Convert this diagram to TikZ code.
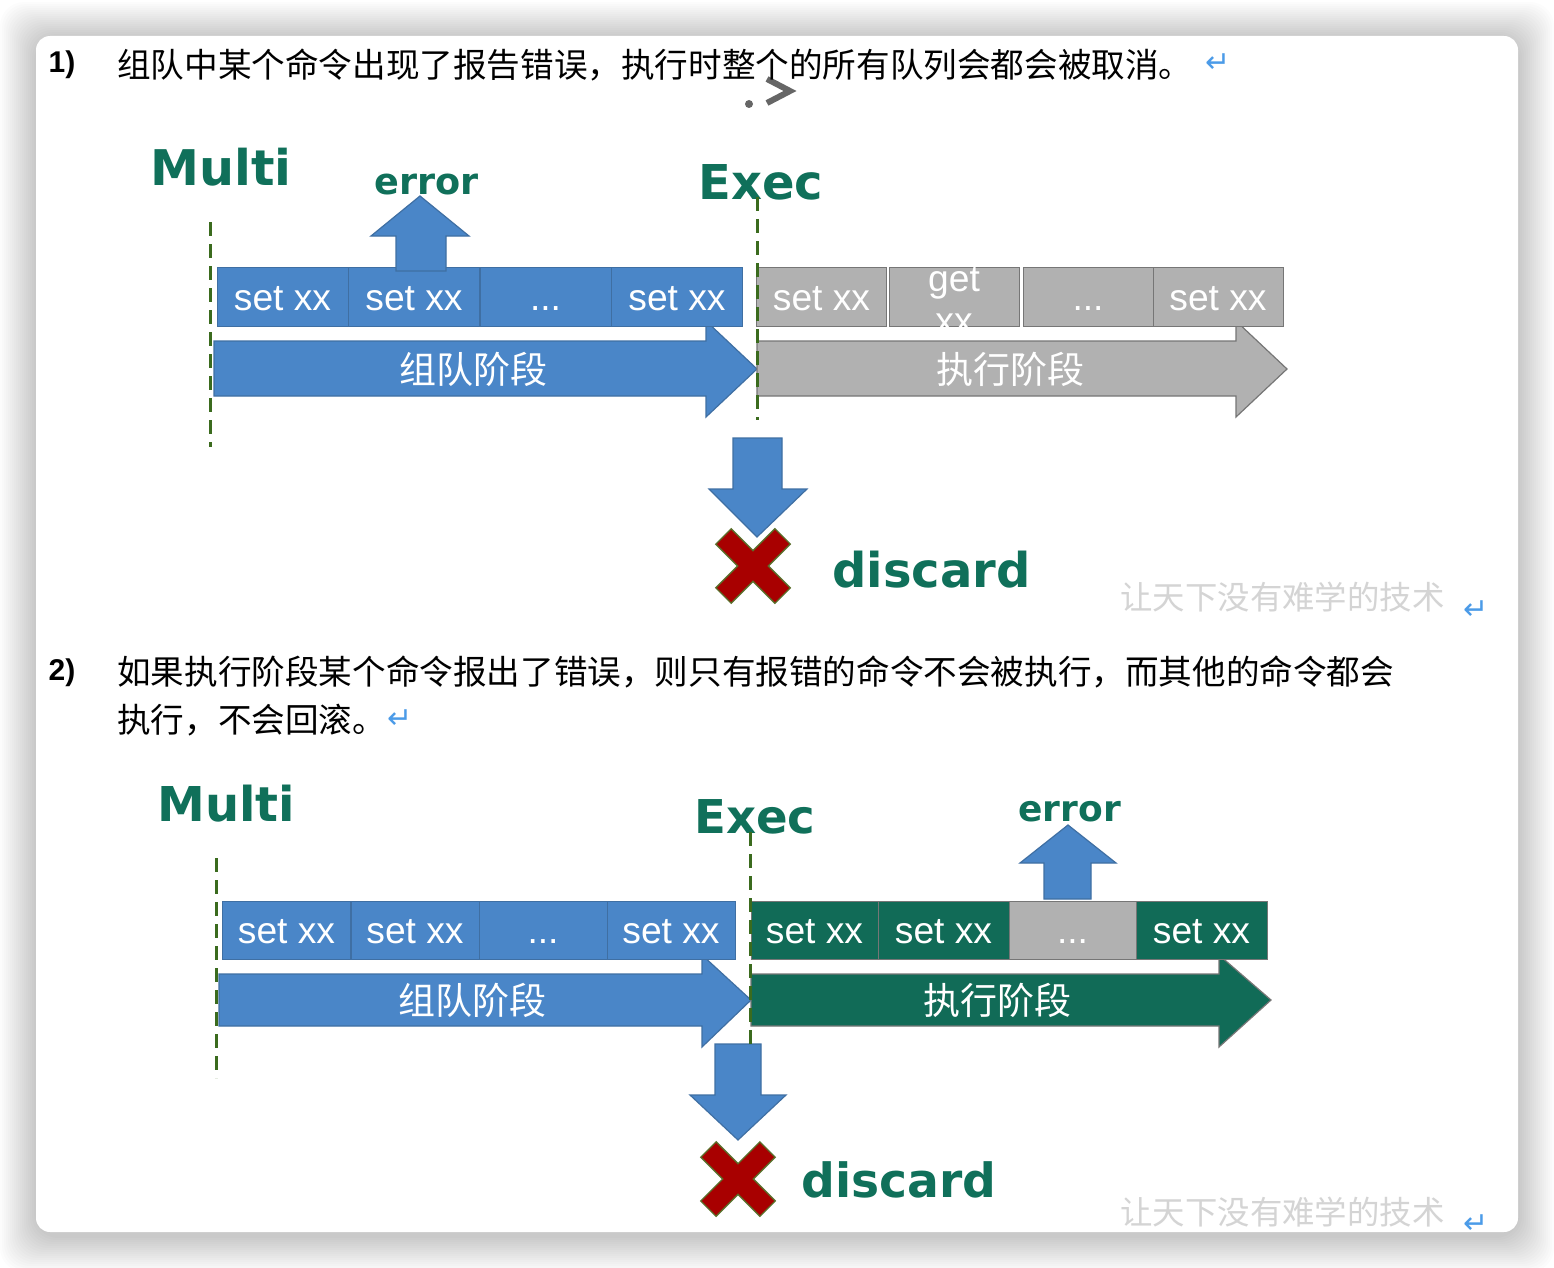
\documentclass[tikz,border=0pt]{standalone}
\usepackage{fontspec}
\setmainfont{Liberation Sans}
\newfontfamily\cjk{Noto Sans CJK SC}
\newfontfamily\verd{DejaVu Sans}
\usepackage{tikz}

\definecolor{cmdblue}{HTML}{4A86C8}
\definecolor{blueline}{HTML}{3F6FA3}
\definecolor{execgreen}{HTML}{116B57}
\definecolor{labgreen}{HTML}{10705A}
\definecolor{cmdgray}{HTML}{B1B1B1}
\definecolor{grayline}{HTML}{767676}
\definecolor{markline}{HTML}{3B6B1E}
\definecolor{crossred}{HTML}{A80000}
\definecolor{crossrim}{HTML}{5A6E2A}
\definecolor{retblue}{HTML}{4B9BE8}

\begin{document}
\begin{tikzpicture}[x=0.5pt, y=-0.5pt,
  cmd/.style={draw=blueline, fill=cmdblue, text=white, minimum width=65.5pt, minimum height=29.5pt, inner sep=0pt, text height=13pt, text depth=0pt, font=\fontsize{18.6}{21}\selectfont},
  idle/.style={cmd, draw=grayline, fill=cmdgray},
  run/.style={cmd, draw=grayline, fill=execgreen},
  bluearrow/.style={draw=blueline, fill=cmdblue, line width=0.6pt},
  grayarrow/.style={draw=grayline, fill=cmdgray, line width=0.6pt},
  greenarrow/.style={draw=grayline, fill=execgreen, line width=0.6pt},
  stagetext/.style={text=white, font=\cjk\fontsize{18.5}{20}\selectfont},
  biglabel/.style={anchor=base west, inner sep=0pt, text=labgreen, font=\verd\bfseries\fontsize{24}{26}\selectfont},
  errlabel/.style={anchor=base west, inner sep=0pt, text=labgreen, font=\verd\bfseries\fontsize{18.3}{20}\selectfont},
  bound/.style={markline, line width=1.5pt, dash pattern=on 7pt off 4pt},
  para/.style={anchor=west, inner sep=0pt, font=\cjk\fontsize{16.8}{20}\selectfont},
  num/.style={inner sep=0pt, font=\bfseries\fontsize{15}{17}\selectfont},
  ret/.style={text=retblue, inner sep=0pt, font=\verd\fontsize{15}{17}\selectfont},
  stamp/.style={anchor=west, inner sep=0pt, text=black!17, font=\cjk\fontsize{16.2}{18}\selectfont}]
\useasboundingbox (0,0) rectangle (1554,1268);
\fill[white] (0,0) rectangle (1554,1268);

% card with soft shadow
\foreach \i in {1,...,18}
  \fill[black, opacity=0.011, rounded corners=12pt] (36-2*\i,38-2*\i) rectangle (1518+2*\i,1236+2*\i);
\fill[white, rounded corners=7pt] (36,36) rectangle (1518,1232);
\draw[black!60, line width=3pt] (767,79) -- (790,91) -- (767,103);
\fill[black!60] (749,104) circle (2pt);

% ---------- 1) ----------
\node[num] (n1) at (62,65) {1)};
\node[para] (t1) at (117,65) {组队中某个命令出现了报告错误，执行时整个的所有队列会都会被取消。};
\node[ret] (r1) at (1218,63) {↵};

\node[biglabel, font=\verd\bfseries\fontsize{24.6}{26}\selectfont] (multi1) at (150,185) {Multi};
\node[errlabel] (err1) at (374,194) {error};
\node[biglabel] (exec1) at (698,199) {Exec};

\draw[bluearrow] (214,341) -- (706,341) -- (706,321) -- (757,369) -- (706,417) -- (706,396) -- (214,396) -- cycle;
\node[stagetext] (queue1) at (473,369) {组队阶段};
\draw[grayarrow] (757,341) -- (1236,341) -- (1236,321) -- (1287,369) -- (1236,417) -- (1236,396) -- (757,396) -- cycle;
\node[stagetext] (exe1) at (1010,369) {执行阶段};

\node[cmd] (a1) at (282.5,297) {set xx};
\node[cmd] (a2) at (414,297) {set xx};
\node[cmd] (a3) at (545.5,297) {...};
\node[cmd] (a4) at (677,297) {set xx};

\node[idle, minimum width=65pt] (b1) at (821.5,297) {set xx};
\node[idle, minimum width=65pt] (b2) at (954,297) {};
\begin{scope}
  \clip (889,267) rectangle (1019,327);
  \node[align=center, text=white, font=\fontsize{18.6}{21}\selectfont] (b2t) at (954,300) {get\\xx};
\end{scope}
\node[idle, minimum width=65pt] (b3) at (1088,297) {...};
\node[idle, minimum width=65pt] (b4) at (1218,297) {set xx};

\draw[bluearrow] (396,271) -- (396,236) -- (371,236) -- (420,196) -- (469,236) -- (446,236) -- (446,271) -- cycle;
\draw[bluearrow] (733,438) -- (782,438) -- (782,489) -- (807,489) -- (757,537) -- (709,489) -- (733,489) -- cycle;

\coordinate (x1) at (753,566);
\draw[crossrim, line width=11.5pt] (x1) ++(-30,-30) -- ++(60,60) (x1) ++(30,-30) -- ++(-60,60);
\draw[crossred, line width=10pt] (x1) ++(-29,-29) -- ++(58,58) (x1) ++(29,-29) -- ++(-58,58);
\node[biglabel] (disc1) at (832,587) {discard};

\coordinate (m1top) at (210,222);
\coordinate (m1bot) at (210,447);
\coordinate (e1top) at (757,197);
\coordinate (e1bot) at (757,420);
\draw[bound] (m1top) -- (m1bot);
\draw[bound] (e1top) -- (e1bot);

\node[stamp] (w1) at (1120,597) {让天下没有难学的技术};
\node[ret] (r2) at (1476,610) {↵};

% ---------- 2) ----------
\node[num] (n2) at (62,673) {2)};
\node[para] (t2) at (117,672) {如果执行阶段某个命令报出了错误，则只有报错的命令不会被执行，而其他的命令都会};
\node[para] (t3) at (117,720) {执行，不会回滚。};
\node[ret] (r3) at (400,719) {↵};

\node[biglabel] (multi2) at (157,821) {Multi};
\node[biglabel, font=\verd\bfseries\fontsize{23.3}{26}\selectfont] (exec2) at (694,833) {Exec};
\node[errlabel, font=\verd\bfseries\fontsize{18}{20}\selectfont] (err2) at (1018,821) {error};

\draw[bluearrow] (219,974) -- (702,974) -- (702,955) -- (751,1000) -- (702,1047) -- (702,1026) -- (219,1026) -- cycle;
\node[stagetext] (queue2) at (472,1000) {组队阶段};
\draw[greenarrow] (751,974) -- (1219,974) -- (1219,955) -- (1271,1000) -- (1219,1047) -- (1219,1026) -- (751,1026) -- cycle;
\node[stagetext] (exe2) at (997,1000) {执行阶段};

\node[cmd, minimum width=64pt, minimum height=29pt] (c1) at (286.5,930) {set xx};
\node[cmd, minimum width=64pt, minimum height=29pt] (c2) at (415,930) {set xx};
\node[cmd, minimum width=64pt, minimum height=29pt] (c3) at (543,930) {...};
\node[cmd, minimum width=64pt, minimum height=29pt] (c4) at (671,930) {set xx};

\node[run, minimum width=63.5pt, minimum height=29pt] (d1) at (814.5,930) {set xx};
\node[run, minimum width=65.5pt, minimum height=29pt] (d2) at (943.5,930) {set xx};
\node[idle, minimum width=63.5pt, minimum height=29pt] (d3) at (1072.5,930) {...};
\node[run, minimum width=65.5pt, minimum height=29pt] (d4) at (1201.5,930) {set xx};

\draw[bluearrow] (1044,899) -- (1044,863) -- (1020,863) -- (1068,825) -- (1116,863) -- (1091,863) -- (1091,899) -- cycle;
\draw[bluearrow] (715,1044) -- (761,1044) -- (761,1095) -- (786,1095) -- (738,1140) -- (690,1095) -- (715,1095) -- cycle;

\coordinate (x2) at (738,1179);
\draw[crossrim, line width=11.5pt] (x2) ++(-30,-30) -- ++(60,60) (x2) ++(30,-30) -- ++(-60,60);
\draw[crossred, line width=10pt] (x2) ++(-29,-29) -- ++(58,58) (x2) ++(29,-29) -- ++(-58,58);
\node[biglabel, font=\verd\bfseries\fontsize{23.6}{26}\selectfont] (disc2) at (801,1197) {discard};

\coordinate (m2top) at (216,858);
\coordinate (m2bot) at (216,1078);
\coordinate (e2top) at (750,832);
\coordinate (e2bot) at (750,1045);
\draw[bound] (m2top) -- (m2bot);
\draw[bound] (e2top) -- (e2bot);

\node[stamp] (w2) at (1120,1212) {让天下没有难学的技术};
\node[ret] (r4) at (1476,1224) {↵};
\end{tikzpicture}
\end{document}
